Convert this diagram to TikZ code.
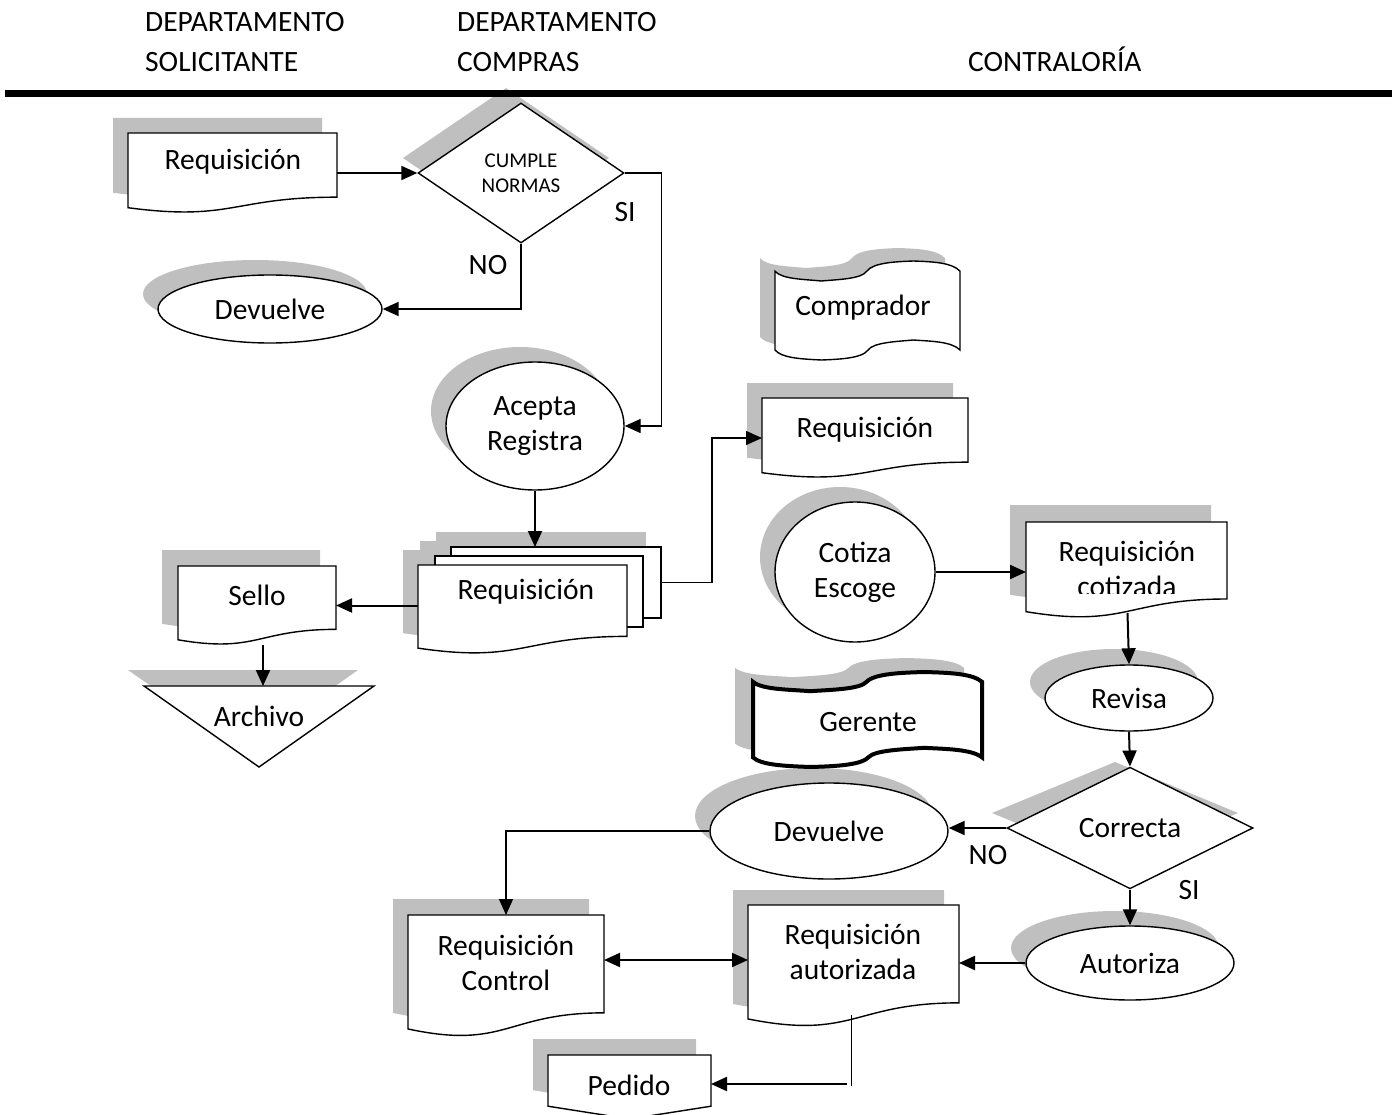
\documentclass[tikz,border=0pt]{standalone}
\usepackage{fontspec}
\setmainfont{Carlito}
\usetikzlibrary{arrows.meta,shapes.geometric,calc}
\definecolor{shadowgray}{HTML}{BFBFBF}

% flowchart outlines in unit coordinates, scaled per symbol
\newcommand\docoutline{(0,0) -- (1,0) -- (1,0.802) .. controls (0.5,0.802) and (0.5,1.107) .. (0,0.934) -- cycle}
\newcommand\tapeoutline{(0,0.103) .. controls (0.038,0.185) and (0.158,0.184) .. (0.249,0.202)
  .. controls (0.344,0.187) and (0.468,0.180) .. (0.495,0.105)
  .. controls (0.530,0.014) and (0.657,0.007) .. (0.748,0)
  .. controls (0.864,0.008) and (0.958,0.018) .. (1,0.103) -- (1,0.899)
  .. controls (0.955,0.811) and (0.836,0.810) .. (0.747,0.798)
  .. controls (0.656,0.814) and (0.532,0.822) .. (0.503,0.899)
  .. controls (0.470,0.986) and (0.338,0.993) .. (0.253,1)
  .. controls (0.129,0.990) and (0.035,0.976) .. (0,0.899) -- cycle}
\newcommand\pageoutline{(0,0) -- (1,0) -- (1,0.8) -- (0.5,1) -- (0,0.8) -- cycle}

% \symshade{outline}{left}{top}{width}{height}{dx}{dy}
\newcommand\symshade[7]{%
  \fill[shadowgray,shift={(#2+#6,#3+#7)},xscale=#4,yscale=#5] #1;}
% \symdraw{outline}{name}{left}{top}{width}{height}{extra options}
\newcommand\symdraw[7]{%
  \filldraw[outline,shift={(#3,#4)},xscale=#5,yscale=#6,#7] #1;
  \node[box,minimum width=#5,minimum height=#6] (#2) at (#3+#5/2,#4+#6/2) {};}

\begin{document}
\begin{tikzpicture}[x=1pt,y=-1pt,
  outline/.style={fill=white,draw=black,line width=1.4pt},
  box/.style={rectangle,inner sep=0pt,outer sep=0pt},
  txt/.style={font=\fontsize{29.5}{35}\selectfont,align=center,inner sep=0pt},
  lbl/.style={font=\fontsize{29.5}{35}\selectfont,inner sep=0pt},
  headtip/.style={-{Triangle[length=16pt,width=14pt]}},
  flow/.style={line width=2pt,headtip},
  flowthin/.style={line width=1.4pt,headtip},
  both/.style={line width=2pt,{Triangle[length=16pt,width=14pt]}-{Triangle[length=16pt,width=14pt]}},
]
\useasboundingbox (0,0) rectangle (1397,1115);

% ---------- shadows ----------
\symshade{\docoutline}{128}{133}{209}{80}{-15}{-15}
\fill[shadowgray] (506,88) -- (609,158) -- (506,228) -- (403,158) -- cycle;
\fill[shadowgray] (255,294) ellipse [x radius=112, y radius=34];
\fill[shadowgray] (520,411) ellipse [x radius=89, y radius=64];
\fill[shadowgray] (436,532) rectangle (646,603);
\fill[shadowgray] (420,541) rectangle (628,612);
\symshade{\docoutline}{418}{565}{209}{89}{-15}{-15}
\symshade{\docoutline}{178}{566}{158}{79}{-16}{-16}
\fill[shadowgray] (128,670) -- (358,670) -- (243,751) -- cycle;
\symshade{\tapeoutline}{775}{261}{185}{99}{-15}{-13}
\symshade{\docoutline}{762}{398}{206}{80}{-15}{-15}
\fill[shadowgray] (840,557) ellipse [x radius=80, y radius=70];
\symshade{\docoutline}{1026}{522}{201}{96}{-16}{-17}
\fill[shadowgray] (1114,682) ellipse [x radius=84, y radius=33];
\symshade{\tapeoutline}{753}{672}{229}{95}{-18}{-14}
\fill[shadowgray] (814,816) ellipse [x radius=119, y radius=48];
\fill[shadowgray] (1115,762) -- (1238,813) -- (1115,864) -- (992,813) -- cycle;
\fill[shadowgray] (1115,948) ellipse [x radius=104, y radius=37];
\symshade{\docoutline}{748}{905}{211}{122}{-15}{-15}
\symshade{\docoutline}{408}{915}{196}{122}{-15}{-16}
\symshade{\pageoutline}{548}{1055}{163}{64}{-15}{-16}

% ---------- header ----------
\draw[line width=7pt] (5,93.5) -- (1392,93.5);
\node[lbl,anchor=base west] (h1a) at (145,32) {DEPARTAMENTO};
\node[lbl,anchor=base west] (h1b) at (145,72) {SOLICITANTE};
\node[lbl,anchor=base west] (h2a) at (457,32) {DEPARTAMENTO};
\node[lbl,anchor=base west] (h2b) at (457,72) {COMPRAS};
\node[lbl,anchor=base west] (h3) at (968,72) {CONTRALORÍA};

% ---------- departamento solicitante / compras ----------
\symdraw{\docoutline}{r1}{128}{133}{209}{80}{}
\node[txt] (r1t) at (233,162) {Requisición};

\node[outline,diamond,minimum width=206,minimum height=140,inner sep=0pt,
      font=\fontsize{21}{25}\selectfont,align=center] (d1) at (521,173) {CUMPLE\\NORMAS};

\node[outline,ellipse,minimum width=224,minimum height=68,txt] (dev1) at (270,309) {Devuelve};
\node[outline,ellipse,minimum width=178,minimum height=128,txt] (acc) at (535,426) {Acepta\\Registra};

\node[outline,box,minimum width=210,minimum height=71] (mback) at (556,582.5) {};
\node[outline,box,minimum width=208,minimum height=71] (mmid) at (539,591.5) {};
\symdraw{\docoutline}{mfront}{418}{565}{209}{89}{}
\node[txt] (mt) at (526,592) {Requisición};

\symdraw{\docoutline}{sello}{178}{566}{158}{79}{}
\node[txt] (sellot) at (257,595) {Sello};

\filldraw[outline] (144,686) -- (374,686) -- (259,767) -- cycle;
\coordinate (archtop) at (263,686);
\node[txt] (archt) at (259,716) {Archivo};

% ---------- contraloría ----------
\symdraw{\tapeoutline}{comp}{775}{261}{185}{99}{}
\node[txt] (compt) at (863,308) {Comprador};

\symdraw{\docoutline}{req2}{762}{398}{206}{80}{}
\node[txt] (req2t) at (865,430) {Requisición};

\node[outline,ellipse,minimum width=160,minimum height=140,txt] (cot) at (855,572) {Cotiza\\Escoge};

\symdraw{\docoutline}{rc}{1026}{522}{201}{96}{}
\begin{scope}
  \clip (1030,500) rectangle (1222,593);
  \node[txt] (rct) at (1127,569) {Requisición\\cotizada};
\end{scope}

\node[outline,ellipse,minimum width=168,minimum height=66,txt] (rev) at (1129,698) {Revisa};

\symdraw{\tapeoutline}{ger}{753}{672}{229}{95}{line width=4pt}
\node[txt] (gert) at (868,722) {Gerente};

\node[outline,ellipse,minimum width=238,minimum height=96,txt] (dev2) at (829,831) {Devuelve};
\node[outline,diamond,minimum width=246,minimum height=102,inner sep=0pt,txt] (cor) at (1130,828) {Correcta};
\node[outline,ellipse,minimum width=208,minimum height=74,txt] (aut) at (1130,963) {Autoriza};

\symdraw{\docoutline}{ra}{748}{905}{211}{122}{}
\node[txt] (rat) at (853,952) {Requisición\\autorizada};

\symdraw{\docoutline}{rcon}{408}{915}{196}{122}{}
\node[txt] (rcont) at (506,963) {Requisición\\Control};

\symdraw{\pageoutline}{ped}{548}{1055}{163}{64}{}
\node[txt] (pedt) at (629,1085) {Pedido};

% ---------- labels ----------
\node[lbl] (si1) at (625,212) {SI};
\node[lbl] (no1) at (488,265) {NO};
\node[lbl] (no2) at (988,855) {NO};
\node[lbl] (si2) at (1189,890) {SI};

% ---------- connectors ----------
\draw[flow] (r1.east |- d1.west) -- (d1.west);
\draw[flowthin] (d1.east) -- ++(37,0) |- (acc.east);
\draw[flow] (d1.south) |- (dev1.east);
\draw[flow] (acc.south) -- (acc.south |- mback.north);
\draw[flow] (mfront.west |- sello.east) -- (sello.east);
\draw[flow] (sello.south -| archtop) -- (archtop);
\draw[flowthin] (mback.east) -- ++(51,0) |- (req2.west);
\draw[flow] (cot.east) -- (cot.east -| rc.west);
\draw[flow] ($(rc.south)+(1,-5)$) -- (rev.north);
\draw[flow] (rev.south) -- (cor.north);
\draw[flow] (cor.west) -- (cor.west -| dev2.east);
\draw[flow] (cor.south) -- (cor.south |- aut.north);
\draw[flow] (aut.west) -- (aut.west -| ra.east);
\draw[flowthin] (dev2.west) -| (rcon.north);
\draw[both] ($(rcon.east |- ra.west)+(0,-6)$) -- ($(ra.west)+(0,-6)$);
\coordinate (rafoot) at ($(ra.south)+(-2,57)$);
\draw[line width=1.2pt] ($(ra.south)+(-2,-12)$) -- ($(rafoot)+(0,2)$);
\draw[flow] ($(rafoot)+(-5,0)$) -- (rafoot -| ped.east);
\end{tikzpicture}
\end{document}
